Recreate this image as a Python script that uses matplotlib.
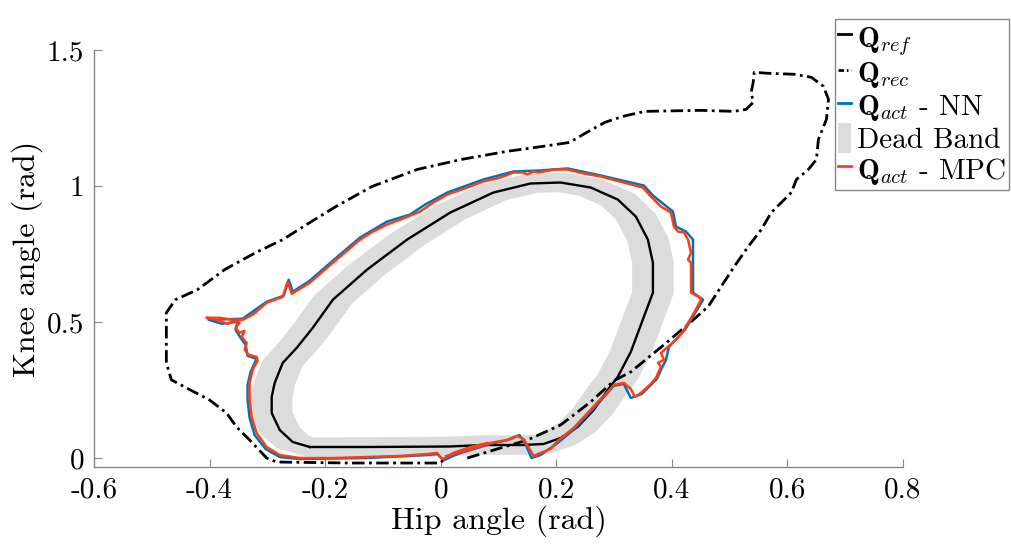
import numpy as np
import matplotlib
matplotlib.use("Agg")
import matplotlib.pyplot as plt
from matplotlib.path import Path
from matplotlib.patches import PathPatch, Patch
from matplotlib.lines import Line2D

plt.rcParams['font.family'] = ['cmr10', 'DejaVu Serif']
plt.rcParams['mathtext.fontset'] = 'cm'
plt.rcParams['axes.unicode_minus'] = False
plt.rcParams['axes.formatter.use_mathtext'] = True

# reference trajectory (hip, knee) - closed loop
ref_hip = [-0.2266, -0.1276, 0.0165, 0.0738, 0.1432, 0.178, 0.2075, 0.237, 0.2648, 0.289,
           0.3064, 0.329, 0.3516, 0.3672, 0.3672, 0.3585, 0.3377, 0.3064, 0.2595, 0.2075,
           0.1554, 0.0911, 0.0165, -0.0582, -0.1276, -0.1866, -0.2214, -0.2491, -0.2734,
           -0.2873, -0.2925, -0.2925, -0.2786, -0.2561]
ref_knee = [0.0405, 0.0405, 0.0424, 0.0479, 0.0479, 0.0516, 0.0737, 0.114, 0.1768, 0.2505,
            0.2983, 0.3904, 0.5193, 0.6077, 0.7182, 0.803, 0.8877, 0.9503, 0.9945, 1.0129,
            1.0092, 0.976, 0.9024, 0.803, 0.6924, 0.582, 0.4788, 0.4052, 0.3499,
            0.2762, 0.2247, 0.1657, 0.1031, 0.0589]
dead_band = 0.036

# recorded trajectory
rec_hip = [0.046, 0.1033, 0.1502, 0.2075, 0.2595, 0.2995, 0.329, 0.3863, 0.4332, 0.4627,
           0.4852, 0.5078, 0.5321, 0.5547, 0.572, 0.5894, 0.6068, 0.6155, 0.6363, 0.6502,
           0.6536, 0.6675, 0.671, 0.6623, 0.6415, 0.612, 0.5668, 0.5425, 0.5408, 0.5373,
           0.5408, 0.5286, 0.5078, 0.4505, 0.3533, 0.3151, 0.2839, 0.2526, 0.2231, 0.1762,
           0.1137, 0.0356, -0.0408, -0.1189, -0.1814, -0.2266, -0.2734, -0.3203, -0.3741,
           -0.421, -0.4592, -0.4748, -0.4748, -0.4748, -0.4661, -0.4401, -0.4002, -0.3707,
           -0.3533, -0.3307, -0.3012, -0.2839, -0.1571, -0.0009, 0.0043]
rec_knee = [0.0, 0.0368, 0.0663, 0.1215, 0.2063, 0.2836, 0.3168, 0.4162, 0.5009, 0.5562,
            0.6298, 0.7035, 0.7772, 0.8398, 0.9024, 0.9392, 0.9761, 1.0239, 1.0608, 1.0976,
            1.1713, 1.2449, 1.3186, 1.3665, 1.3996, 1.4107, 1.4144, 1.418, 1.3812, 1.3444,
            1.3076, 1.2818, 1.2744, 1.2781, 1.2744, 1.256, 1.2339, 1.1971, 1.1602, 1.1455,
            1.1271, 1.0976, 1.0608, 0.9982, 0.9245, 0.8656, 0.8029, 0.7551, 0.6924,
            0.6188, 0.582, 0.5341, 0.4972, 0.3499, 0.2873, 0.2578, 0.2136, 0.1657,
            0.1142, 0.0663, 0.0, -0.0147, -0.0184, -0.0184, -0.0074]

# actual trajectory, MPC
mpc_hip = [0.0095, 0.046, 0.0859, 0.1155, 0.1328, 0.1432, 0.1519, 0.1606, 0.1727, 0.1901,
           0.2023, 0.23, 0.2543, 0.2717, 0.2891, 0.2995, 0.3168, 0.329, 0.3359, 0.3464,
           0.3637, 0.3724, 0.3811, 0.3759, 0.3863, 0.3811, 0.3932, 0.4106, 0.421, 0.4384,
           0.4505, 0.447, 0.4332, 0.4332, 0.428, 0.4332, 0.428, 0.421, 0.4106, 0.4036,
           0.3984, 0.3811, 0.3637, 0.3498, 0.3168, 0.2769, 0.2474, 0.2196, 0.1953, 0.178,
           0.1693, 0.1606, 0.1502, 0.1415, 0.1259, 0.1033, 0.0738, 0.046, 0.0113, -0.013,
           -0.0356, -0.0703, -0.0929, -0.1172, -0.1398, -0.1866, -0.2266, -0.2578, -0.2648,
           -0.2734, -0.3012, -0.3255, -0.3429, -0.3602, -0.3828, -0.4054, -0.3863, -0.3689,
           -0.3568, -0.3481, -0.355, -0.3481, -0.3394, -0.3446, -0.3359, -0.3394, -0.3325,
           -0.3186, -0.3168, -0.3255, -0.3307, -0.3307, -0.3273, -0.3186, -0.3012, -0.2786,
           -0.2439, -0.1866, -0.1276, -0.0703, -0.0234, -0.0061, -0.0009, 0.0043, 0.0217,
           0.0512, 0.0807]
mpc_knee = [0.0074, 0.0295, 0.0552, 0.0663, 0.081, 0.07, 0.0405, 0.0074, 0.0184, 0.0331,
            0.0626, 0.1105, 0.1657, 0.2062, 0.2431, 0.2689, 0.2762, 0.2541, 0.2247, 0.2394,
            0.2725, 0.2946, 0.3352, 0.3499, 0.3609, 0.3867, 0.4088, 0.442, 0.4714, 0.5341,
            0.5819, 0.593, 0.6077, 0.7182, 0.7293, 0.755, 0.8029, 0.8287, 0.8324, 0.8508,
            0.9024, 0.9245, 0.9613, 0.9945, 1.0129, 1.035, 1.046, 1.0608, 1.0608, 1.0534,
            1.0497, 1.0534, 1.0424, 1.0497, 1.0497, 1.0313, 1.0166, 0.9945, 0.9687, 0.9392,
            0.906, 0.8766, 0.8582, 0.8324, 0.8029, 0.7182, 0.6446, 0.604, 0.6482,
            0.593, 0.5709, 0.5267, 0.5083, 0.5083, 0.5156, 0.5156, 0.5083, 0.4935,
            0.5046, 0.4972, 0.4788, 0.4604, 0.4678, 0.4457, 0.4236, 0.3978, 0.3794,
            0.372, 0.3573, 0.3241, 0.2762, 0.2136, 0.151, 0.0921, 0.0405, 0.011,
            0.0, 0.0, 0.0037, 0.0074, 0.0147, 0.0184, 0.0037, -0.0037, 0.0184,
            0.0405, 0.0552]

# actual trajectory, NN
nn_hip = [0.0095, 0.046, 0.0859, 0.1155, 0.1363, 0.1467, 0.1571, 0.1727, 0.2023, 0.2335,
          0.2734, 0.2995, 0.3168, 0.329, 0.3481, 0.3741, 0.3828, 0.3898, 0.395, 0.4227,
          0.454, 0.4366, 0.4366, 0.4366, 0.4245, 0.4071, 0.4019, 0.3672, 0.3516, 0.2769,
          0.2196, 0.1727, 0.1259, 0.0738, 0.0113, -0.0269, -0.053, -0.0929, -0.1398,
          -0.1866, -0.2266, -0.2561, -0.263, -0.2717, -0.3012, -0.3429, -0.4019, -0.379,
          -0.3516, -0.355, -0.3464, -0.3377, -0.3342, -0.3186, -0.329, -0.3342, -0.3342,
          -0.3307, -0.322, -0.3029, -0.2786, -0.2439, -0.1276, -0.0234, -0.0061, 0.0009,
          0.0061, 0.0512, 0.0807]
nn_knee = [0.0037, 0.0258, 0.0516, 0.0663, 0.0847, 0.0516, 0.0, 0.011, 0.0552, 0.1105,
           0.2026, 0.2652, 0.2725, 0.221, 0.2357, 0.291, 0.3315, 0.3609, 0.4088, 0.4714,
           0.5819, 0.6077, 0.7219, 0.8029, 0.8324, 0.8508, 0.9061, 0.965, 1.0018, 1.0387,
           1.0645, 1.0571, 1.0534, 1.0239, 0.976, 0.9319, 0.895, 0.8692, 0.8103,
           0.7256, 0.6519, 0.6114, 0.6556, 0.5967, 0.5746, 0.512, 0.5083, 0.4935,
           0.5009, 0.4715, 0.442, 0.4162, 0.3757, 0.3646, 0.3168, 0.2689, 0.2136,
           0.1473, 0.0847, 0.0331, 0.0037, -0.0037, 0.0, 0.011, 0.0147, 0.0,
           -0.0074, 0.0368, 0.0516]

x_ticks = [-0.6, -0.4, -0.2, 0, 0.2, 0.4, 0.6, 0.8]
x_ticklabels = ['-0.6', '-0.4', '-0.2', '0', '0.2', '0.4', '0.6', '0.8']
y_ticks = [0, 0.5, 1, 1.5]
y_ticklabels = ['0', '0.5', '1', '1.5']

c_nn = '#0072BD'
c_mpc = '#FF3D10'
c_band = '#DCDCDC'

fig = plt.figure(figsize=(10.12, 5.47), dpi=100)
ax = fig.add_axes([94/1012, 1-467/547, 809/1012, 417/547])

# dead band = reference offset by +/- dead_band along the normal
p = np.column_stack([ref_hip, ref_knee])
t = np.roll(p, -1, axis=0) - np.roll(p, 1, axis=0)
n = np.column_stack([t[:, 1], -t[:, 0]])
n = n / np.linalg.norm(n, axis=1)[:, None]
outer = p + dead_band*n
inner = p - dead_band*n
ring1 = np.vstack([outer, outer[:1]])
ring2 = np.vstack([inner[::-1], inner[-1:]])
verts = np.vstack([ring1, ring2])
codes = ([Path.MOVETO] + [Path.LINETO]*(len(ring1)-2) + [Path.CLOSEPOLY]
         + [Path.MOVETO] + [Path.LINETO]*(len(ring2)-2) + [Path.CLOSEPOLY])
ax.add_patch(PathPatch(Path(verts, codes), facecolor=c_band, edgecolor='none', zorder=1))

ax.plot(ref_hip + ref_hip[:1], ref_knee + ref_knee[:1], color='k', lw=1.7, zorder=3)
ax.plot(rec_hip, rec_knee, color='k', lw=2.0, ls=(0, (4.5, 1.6, 1, 1.6)), zorder=3)
ax.plot(nn_hip, nn_knee, color=c_nn, lw=1.8, zorder=4)
ax.plot(mpc_hip, mpc_knee, color=c_mpc, lw=1.8, zorder=5)

ax.set_xlim(-0.6, 0.8)
ax.set_ylim(-0.033, 1.5)
ax.set_xticks(x_ticks)
ax.set_xticklabels(x_ticklabels)
ax.set_yticks(y_ticks)
ax.set_yticklabels(y_ticklabels)
ax.tick_params(direction='in', length=6, width=0.8, color='#888888', labelsize=21, pad=7)
for s in ['top', 'right']:
    ax.spines[s].set_visible(False)
for s in ['left', 'bottom']:
    ax.spines[s].set_color('#888888')
    ax.spines[s].set_linewidth(1.0)
ax.set_xlabel('Hip angle (rad)', fontsize=23, labelpad=2)
ax.set_ylabel('Knee angle (rad)', fontsize=23, labelpad=3)

handles = [Line2D([], [], color='k', lw=2),
           Line2D([], [], color='k', lw=2, ls=(0, (2, 1, 0.6, 1))),
           Line2D([], [], color=c_nn, lw=2),
           Patch(facecolor=c_band, edgecolor='none'),
           Line2D([], [], color=c_mpc, lw=2)]
labels = [r'$\mathbf{Q}_{ref}$', r'$\mathbf{Q}_{rec}$', r'$\mathbf{Q}_{act}$ - NN',
          'Dead Band', r'$\mathbf{Q}_{act}$ - MPC']
fig.legend(handles, labels, loc='upper left', bbox_to_anchor=(835/1012, 1-19/547),
           fancybox=False, edgecolor='#888888', framealpha=1, fontsize=21,
           handlelength=0.45, handleheight=1.2, handletextpad=0.2, borderpad=0.1,
           labelspacing=0.0, borderaxespad=0)

fig.savefig('out.png', dpi=100)
